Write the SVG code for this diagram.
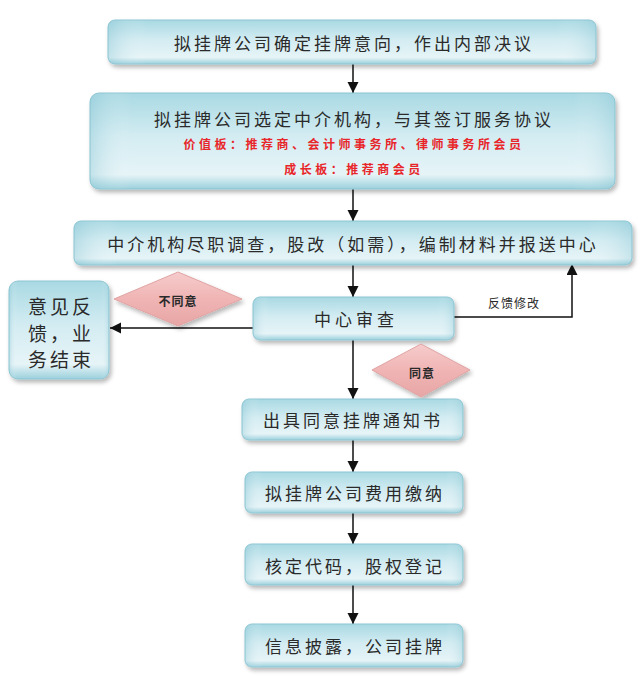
<svg xmlns="http://www.w3.org/2000/svg" width="640" height="676" viewBox="0 0 640 676">
<defs>
<linearGradient id="boxg" x1="0" y1="0" x2="0" y2="1">
<stop offset="0" stop-color="#a9d9e3"/>
<stop offset="0.45" stop-color="#d3ecf2"/>
<stop offset="0.85" stop-color="#e6f4f7"/>
<stop offset="1" stop-color="#9bd0dc"/>
</linearGradient>
<linearGradient id="boxh" x1="0" y1="0" x2="1" y2="0">
<stop offset="0" stop-color="#7fc0d0" stop-opacity="0.35"/>
<stop offset="0.08" stop-color="#ffffff" stop-opacity="0"/>
<stop offset="0.92" stop-color="#ffffff" stop-opacity="0"/>
<stop offset="1" stop-color="#7fc0d0" stop-opacity="0.3"/>
</linearGradient>
<linearGradient id="dia" x1="0" y1="0" x2="0" y2="1">
<stop offset="0" stop-color="#f6cccc"/>
<stop offset="0.5" stop-color="#f0b4b4"/>
<stop offset="1" stop-color="#e8a6a6"/>
</linearGradient>
<filter id="sh" x="-10%" y="-20%" width="125%" height="150%">
<feDropShadow dx="2" dy="3" stdDeviation="2" flood-color="#000" flood-opacity="0.28"/>
</filter>
<marker id="ah" markerUnits="userSpaceOnUse" markerWidth="12" markerHeight="12" refX="11" refY="5.5" orient="auto">
<path d="M0,0 L11,5.5 L0,11 z" fill="#111"/>
</marker>
<style>
.box{fill:url(#boxg);stroke:#8cc5d2;stroke-width:1;filter:url(#sh)}
.hl{fill:url(#boxh);stroke:none}
.dm{fill:url(#dia);stroke:#e0a3a3;stroke-width:1;filter:url(#sh)}
.t{font-family:"Noto Sans CJK SC","Noto Sans CJK TC",sans-serif;fill:#2a2a2a;text-anchor:middle;dominant-baseline:central}
.big{font-size:17px;letter-spacing:3px}
.red{font-size:12px;font-weight:bold;fill:#e8262a;letter-spacing:3.5px}
.sm{font-size:12px;letter-spacing:1px}
.smb{font-size:12px;font-weight:bold;letter-spacing:1px}
.con{fill:none;stroke:#111;stroke-width:1.5}
</style>
</defs>

<g id="connectors">
<line class="con" x1="353" y1="64" x2="353" y2="93" marker-end="url(#ah)"/>
<line class="con" x1="353" y1="189" x2="353" y2="221" marker-end="url(#ah)"/>
<line class="con" x1="353" y1="265" x2="353" y2="297" marker-end="url(#ah)"/>
<line class="con" x1="253" y1="328" x2="110" y2="328" marker-end="url(#ah)"/>
<polyline class="con" points="454,317 572,317 572,264" marker-end="url(#ah)"/>
<line class="con" x1="353" y1="340" x2="353" y2="399" marker-end="url(#ah)"/>
<line class="con" x1="353" y1="440" x2="353" y2="472" marker-end="url(#ah)"/>
<line class="con" x1="353" y1="513" x2="353" y2="544" marker-end="url(#ah)"/>
<line class="con" x1="353" y1="585" x2="353" y2="624" marker-end="url(#ah)"/>
<text class="t sm" x="514" y="302">反馈修改</text>
</g>

<g id="n1">
<rect class="box" x="108" y="20" width="488" height="44" rx="7"/>
<rect class="hl" x="108" y="20" width="488" height="44" rx="7"/>
<text class="t big" x="354" y="42">拟挂牌公司确定挂牌意向，作出内部决议</text>
</g>

<g id="n2">
<rect class="box" x="90" y="93" width="525" height="96" rx="9"/>
<rect class="hl" x="90" y="93" width="525" height="96" rx="9"/>
<text class="t big" x="354" y="118">拟挂牌公司选定中介机构，与其签订服务协议</text>
<text class="t red" x="354" y="143">价值板：推荐商、会计师事务所、律师事务所会员</text>
<text class="t red" x="354" y="168">成长板：推荐商会员</text>
</g>

<g id="n3">
<rect class="box" x="74" y="221" width="558" height="44" rx="7"/>
<rect class="hl" x="74" y="221" width="558" height="44" rx="7"/>
<text class="t big" x="353" y="243">中介机构尽职调查，股改（如需），编制材料并报送中心</text>
</g>

<g id="n4">
<rect class="box" x="253" y="297" width="201" height="43" rx="7"/>
<rect class="hl" x="253" y="297" width="201" height="43" rx="7"/>
<text class="t big" x="356" y="318" style="letter-spacing:4px">中心审查</text>
</g>

<g id="n5">
<rect class="box" x="9" y="281" width="100" height="98" rx="9"/>
<rect class="hl" x="9" y="281" width="100" height="98" rx="9"/>
<text class="t" x="61" y="305" style="font-size:19px;letter-spacing:3px">意见反</text>
<text class="t" x="61" y="332" style="font-size:19px;letter-spacing:3px">馈，业</text>
<text class="t" x="61" y="358" style="font-size:19px;letter-spacing:3px">务结束</text>
</g>

<g id="d1">
<polygon class="dm" points="178,272 242,299 178,326 114,299"/>
<text class="t smb" x="178" y="300">不同意</text>
</g>

<g id="d2">
<polygon class="dm" points="421,344 470,370 421,397 372,370"/>
<text class="t smb" x="422" y="372">同意</text>
</g>

<g id="n6">
<rect class="box" x="242" y="399" width="221" height="41" rx="7"/>
<rect class="hl" x="242" y="399" width="221" height="41" rx="7"/>
<text class="t big" x="353" y="419">出具同意挂牌通知书</text>
</g>

<g id="n7">
<rect class="box" x="245" y="472" width="218" height="41" rx="7"/>
<rect class="hl" x="245" y="472" width="218" height="41" rx="7"/>
<text class="t big" x="355" y="492">拟挂牌公司费用缴纳</text>
</g>

<g id="n8">
<rect class="box" x="245" y="544" width="218" height="41" rx="7"/>
<rect class="hl" x="245" y="544" width="218" height="41" rx="7"/>
<text class="t big" x="355" y="565">核定代码，股权登记</text>
</g>

<g id="n9">
<rect class="box" x="245" y="624" width="218" height="43" rx="7"/>
<rect class="hl" x="245" y="624" width="218" height="43" rx="7"/>
<text class="t big" x="355" y="645">信息披露，公司挂牌</text>
</g>
</svg>
